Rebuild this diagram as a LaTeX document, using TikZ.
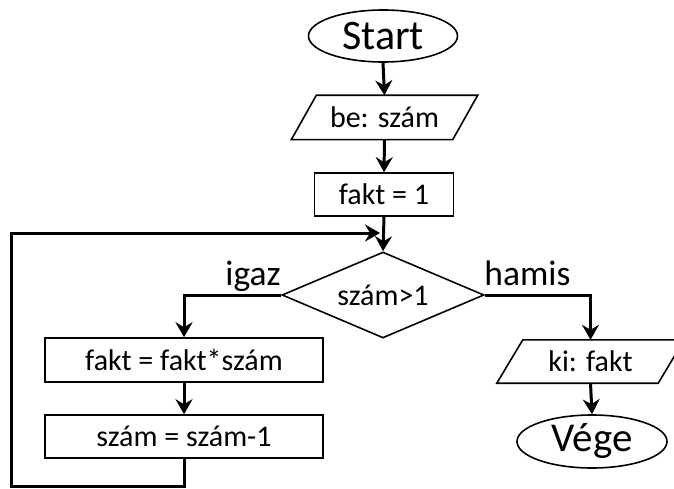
\documentclass[tikz,border=0pt]{standalone}
\usepackage{fontspec}
\setmainfont{Carlito}
\usetikzlibrary{shapes.geometric,arrows.meta}
\tikzset{
  shapeline/.style={draw=black,line width=1.6pt,inner sep=0pt,font=\fontsize{30}{32}\selectfont},
  term/.style={shapeline,ellipse,font=\fontsize{42}{44}\selectfont},
  iobox/.style={rectangle,inner sep=0pt,font=\fontsize{30}{32}\selectfont},
  ioline/.style={draw=black,line width=1.6pt,line join=miter},
  procbox/.style={shapeline,rectangle},
  decbox/.style={shapeline,diamond,aspect=2.35},
  conn/.style={draw=black,line width=3pt,-{Stealth[length=15pt,width=17pt,inset=5pt]}},
  lbl/.style={font=\fontsize{35.5}{37}\selectfont,inner sep=0pt,anchor=base}
}
\begin{document}
\begin{tikzpicture}[x=1pt,y=-1pt]
\useasboundingbox (0,0) rectangle (674,489);
\node[term,minimum width=149pt,minimum height=52pt] (start) at (383,36) {Start};
\node[iobox,minimum width=161pt,minimum height=44pt] (be) at (384.5,117.5) {be: szám};
\node[procbox,minimum width=139pt,minimum height=43pt] (f1) at (384,194.5) {fakt = 1};
\node[decbox,minimum width=202pt,minimum height=86pt] (dia) at (383,295) {szám>1};
\node[procbox,minimum width=278pt,minimum height=44pt] (mul) at (184,360) {fakt = fakt*szám};
\node[procbox,minimum width=278pt,minimum height=43pt] (dec) at (184,436.5) {szám = szám-1};
\node[iobox,minimum width=161pt,minimum height=43pt] (out) at (590.5,361.5) {ki: fakt};
\node[term,minimum width=150pt,minimum height=53pt,font=\fontsize{41}{43}\selectfont] (vege) at (592,441.5) {Vége};
\node[lbl] (igaz) at (253,285) {igaz};
\node[lbl] (hamis) at (527.5,285) {hamis};
\draw[ioline] ([xshift=-12.5pt]be.south west) -- ([xshift=-12.5pt]be.south east)
  -- ([xshift=12.5pt]be.north east) -- ([xshift=12.5pt]be.north west) -- cycle;
\draw[ioline] ([xshift=-13pt]out.south west) -- ([xshift=-13pt]out.south east)
  -- ([xshift=13pt]out.north east) -- ([xshift=13pt]out.north west) -- cycle;
\coordinate (loopBL) at (11,486);
\coordinate (loopTL) at (11,233);
\coordinate (join) at (380,233);
\draw[conn] (start.south) -- (be.north);
\draw[conn] (be.south) -- (f1.north);
\draw[conn] (f1.south) -- (dia.north);
\draw[conn] (dia.west) -| (mul.north);
\draw[conn] (mul.south) -- (dec.north);
\draw[conn] (dec.south) |- (loopBL) -- (loopTL) -- (join);
\draw[conn] (dia.east) -| (out.north);
\draw[conn] (out.south) -- (vege.north);
\end{tikzpicture}
\end{document}
